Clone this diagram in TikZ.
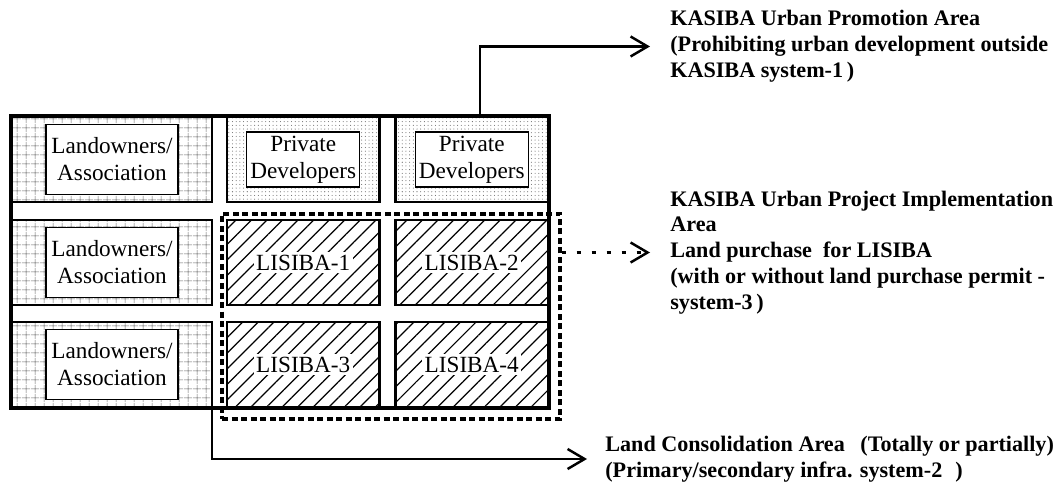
\documentclass[tikz,border=0pt]{standalone}
\usepackage{fontspec}
\setmainfont{Liberation Serif}
\usepackage{tikz}
\usetikzlibrary{arrows.meta, positioning, fit, calc, patterns.meta}
\newcommand{\cellfont}{\fontsize{13.2}{15.3}\selectfont}
\newcommand{\notefont}{\fontsize{12.6}{14.7}\selectfont\bfseries}

\begin{document}
\begin{tikzpicture}[
    node distance=0.36cm and 0.3cm,
    cell/.style={rectangle, draw=black, line width=1.4pt, outer sep=0pt, minimum height=1.7cm},
    owncell/.style={cell, minimum width=4cm, pattern={Hatch[angle=0, distance=1.8mm, line width=0.4pt]}, pattern color=black!60},
    devcell/.style={cell, minimum width=3.05cm, pattern={Dots[radius=0.3pt, distance=2.1pt]}, pattern color=black!60},
    liscell/.style={cell, minimum width=3.05cm, pattern={Lines[angle=45, distance=2.2mm, line width=0.7pt]}, pattern color=black},
    celltext/.style={rectangle, fill=white, align=center, font=\cellfont, inner sep=1pt},
    owntext/.style={celltext, draw=black, line width=0.7pt, minimum width=2.64cm, minimum height=1.4cm},
    devtext/.style={celltext, draw=black, line width=0.7pt, minimum width=2.26cm, minimum height=1.1cm},
    listext/.style={celltext, inner sep=1.5pt},
    note/.style={align=left, inner sep=0pt, font=\notefont, anchor=west},
    areabox/.style={rectangle, draw=black, line width=1.8pt, dash pattern=on 0.12cm off 0.07cm, inner sep=0pt},
    arrow/.style={-{Straight Barb[length=3.4mm, width=4mm, line width=1.4pt]}, line width=1.3pt, draw=black},
    dotarrow/.style={arrow, dash pattern=on 0.08cm off 0.22cm, line width=1.6pt}
]
\useasboundingbox (0,0) rectangle (21.28,-9.74);

% Row 1: Landowners and Private Developers
\node[owncell, anchor=north west] (own1) at (0.24,-2.34) {};
\node[devcell, right=0.3cm of own1] (dev1) {};
\node[devcell, right=0.32cm of dev1] (dev2) {};

% Row 2: Landowners and LISIBA
\node[owncell, below=0.36cm of own1] (own2) {};
\node[liscell, right=0.3cm of own2] (lis1) {};
\node[liscell, right=0.32cm of lis1] (lis2) {};

% Row 3: Landowners and LISIBA
\node[owncell, below=0.34cm of own2] (own3) {};
\node[liscell, right=0.3cm of own3] (lis3) {};
\node[liscell, right=0.32cm of lis3] (lis4) {};

% Cell labels
\node[owntext] (own1txt) at (own1) {Landowners/\\Association};
\node[owntext] (own2txt) at (own2) {Landowners/\\Association};
\node[owntext] (own3txt) at (own3) {Landowners/\\Association};
\node[devtext] (dev1txt) at (dev1) {Private\\Developers};
\node[devtext] (dev2txt) at (dev2) {Private\\Developers};
\node[listext] (lis1txt) at (lis1) {LISIBA-1};
\node[listext] (lis2txt) at (lis2) {LISIBA-2};
\node[listext] (lis3txt) at (lis3) {LISIBA-3};
\node[listext] (lis4txt) at (lis4) {LISIBA-4};

% Areas
\node[fit=(own1)(lis4), draw=black, line width=2.2pt, inner sep=0.4pt] (kasiba) {};
\coordinate (projnw) at ($(lis1.north west)+(-0.1,0.12)$);
\coordinate (projse) at ($(lis4.south east)+(0.24,-0.24)$);
\node[areabox, fit=(projnw)(projse)] (projarea) {};

% Notes
\node[note] (promonote) at (13.4,-0.93) {KASIBA Urban Promotion Area\\(Prohibiting urban development outside\\KASIBA system-1\,)};
\node[note] (projnote) at (13.4,-5.05) {KASIBA Urban Project Implementation\\Area\\Land purchase\ \ for LISIBA\\(with or without land purchase permit -\\system-3\,)};
\node[note] (consolnote) at (12.1,-9.18) {Land Consolidation Area\hspace{0.2cm} (Totally or partially)\\(Primary/secondary infra. system-2\hspace{0.15cm} )};

% Connectors
\draw[arrow] ([xshift=0.17cm]dev2.north) |- ([xshift=-0.4cm]promonote.west);
\draw[dotarrow] (projarea.east |- projnote.west) -- ([xshift=-0.4cm]projnote.west);
\draw[arrow] (own3.south east) |- ([xshift=-0.36cm]consolnote.west);

\end{tikzpicture}
\end{document}
